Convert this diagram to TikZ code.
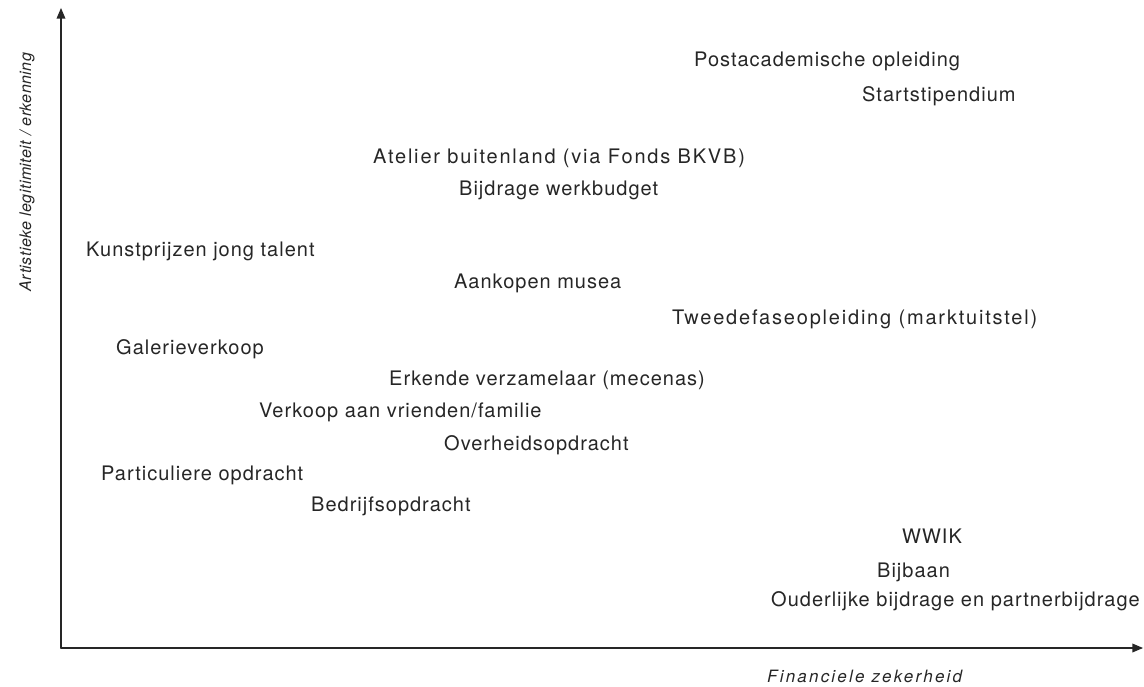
\documentclass[tikz,border=0pt]{standalone}
\usepackage{fontspec}
\setmainfont{TeX Gyre Heros}
\newfontfamily\itemfont[LetterSpace=5]{TeX Gyre Heros}
\newfontfamily\wideitemfont[LetterSpace=9]{TeX Gyre Heros}
\newfontfamily\xaxisfont[LetterSpace=13]{TeX Gyre Heros}
\newfontfamily\yaxisfont[LetterSpace=3]{TeX Gyre Heros}
\usetikzlibrary{arrows}

\tikzset{
  item/.style={anchor=base west, inner sep=0pt, text=black!85, font=\itemfont\fontsize{20}{24}\selectfont},
  wideitem/.style={item, font=\wideitemfont\fontsize{20}{24}\selectfont},
  xaxislabel/.style={inner sep=0pt, text=black!85, font=\xaxisfont\fontsize{17}{21}\selectfont\itshape},
  yaxislabel/.style={inner sep=0pt, text=black!85, font=\yaxisfont\fontsize{16}{20}\selectfont\itshape},
}

\begin{document}
\begin{tikzpicture}[line cap=round,line join=round,>=triangle 45,x=1pt,y=-1pt]
\useasboundingbox (0,0) rectangle (1144,687);
% axes
\coordinate (origin) at (61,648);
\coordinate (ytop) at (61,8);
\coordinate (xend) at (1143,648);
\draw [line width=1.5pt,black!85,->] (origin) -- (ytop);
\draw [line width=1.5pt,black!85,->] (origin) -- (xend);
\node [xaxislabel,anchor=base west] (xlabel) at (767,682) {Financiele zekerheid};
\node [yaxislabel,anchor=base,rotate=90] (ylabel) at (31,172) {Artistieke legitimiteit / erkenning};
% regelingen en inkomstenbronnen
\node [item] (postac) at (694,67) {Postacademische opleiding};
\node [item] (start) at (862,102) {Startstipendium};
\node [wideitem] (atelier) at (373,164) {Atelier buitenland (via Fonds BKVB)};
\node [item] (werkbudget) at (459,196) {Bijdrage werkbudget};
\node [item] (prijzen) at (86,257) {Kunstprijzen jong talent};
\node [item] (musea) at (454,289) {Aankopen musea};
\node [wideitem] (tweedefase) at (672,324) {Tweedefaseopleiding (marktuitstel)};
\node [item] (galerie) at (116,354) {Galerieverkoop};
\node [item] (mecenas) at (389,385) {Erkende verzamelaar (mecenas)};
\node [item] (vrienden) at (259,417) {Verkoop aan vrienden/familie};
\node [item] (overheid) at (444,450) {Overheidsopdracht};
\node [item] (particulier) at (101,480) {Particuliere opdracht};
\node [item] (bedrijf) at (311,511) {Bedrijfsopdracht};
\node [item] (wwik) at (902,543) {WWIK};
\node [item] (bijbaan) at (877,577) {Bijbaan};
\node [item] (ouders) at (771,606) {Ouderlijke bijdrage en partnerbijdrage};
\end{tikzpicture}
\end{document}
